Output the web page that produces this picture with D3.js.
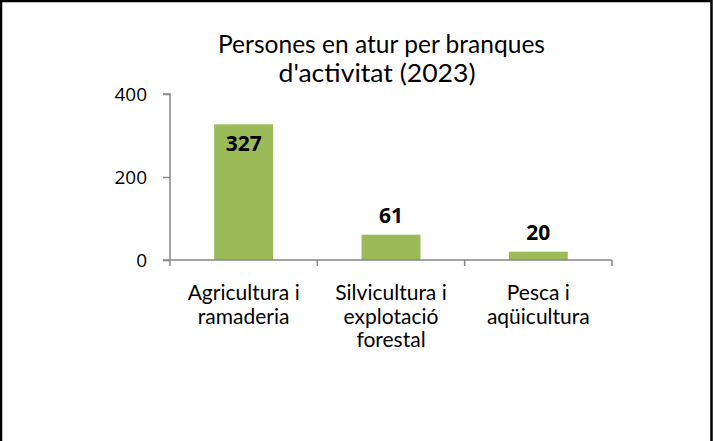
<!DOCTYPE html>
<html><head><meta charset="utf-8">
<script src="https://cdn.jsdelivr.net/npm/d3@7"></script>
<style>html,body{margin:0;padding:0;background:#fff;overflow:hidden}</style>
</head><body>
<svg id="c" width="713" height="441"></svg>
<script>
const titleLines = ["Persones en atur per branques", "d'activitat (2023)"];
const categories = ["Agricultura i ramaderia", "Silvicultura i explotació forestal", "Pesca i aqüicultura"];
const categoryLines = [["Agricultura i", "ramaderia"], ["Silvicultura i", "explotació", "forestal"], ["Pesca i", "aqüicultura"]];
const values = [327, 61, 20];
const yTicks = [0, 200, 400];

(function () {
const svg = d3.select("#c");
svg.append("rect").attr("x", 1).attr("y", 1).attr("width", 710.5).attr("height", 480)
  .attr("fill", "#fff").attr("stroke", "#000").attr("stroke-width", 2.5);

const pl = 170, pr = 612, pt = 94, pb = 260;
const x = d3.scaleBand().domain(categories).range([pl, pr]).paddingInner(0.6).paddingOuter(0.3);
const xb = d3.scaleBand().domain(categories).range([pl, pr]).padding(0);
const y = d3.scaleLinear().domain([0, 400]).range([pb, pt]);

const font = "Lato, 'Open Sans', sans-serif";

// title
const titleY = [53, 82];
const titleW = [327, 197];
const titleX = [381.5, 377];
titleLines.forEach((t, i) => {
  svg.append("text").attr("x", titleX[i]).attr("y", titleY[i]).attr("text-anchor", "middle")
    .attr("font-family", font).attr("font-size", 25).attr("fill", "#000")
    .attr("textLength", titleW[i]).attr("lengthAdjust", "spacingAndGlyphs").text(t);
});

// bars
svg.selectAll("rect.bar").data(values).join("rect").attr("class", "bar")
  .attr("x", (d, i) => x(categories[i])).attr("width", x.bandwidth())
  .attr("y", d => y(d)).attr("height", d => y(0) - y(d)).attr("fill", "#9BBB59");

// y axis
const ya = svg.append("g").attr("transform", `translate(${pl},0)`)
  .call(d3.axisLeft(y).tickValues(yTicks).tickSize(7).tickPadding(16).tickFormat(d3.format("d")));
ya.select(".domain").attr("stroke", "#868686").attr("stroke-width", 1.5).attr("d", `M-7,${pt}H0V${pb}`);
ya.selectAll(".tick line").attr("stroke", "#868686").attr("stroke-width", 1.5);
ya.selectAll(".tick text").attr("font-family", "'Open Sans', sans-serif").attr("font-size", 19).attr("fill", "#000");

// x axis line with boundary ticks
const xa = svg.append("g");
xa.append("line").attr("x1", pl - 7).attr("x2", pr).attr("y1", pb).attr("y2", pb)
  .attr("stroke", "#868686").attr("stroke-width", 1.5);
const bounds = categories.map(c => xb(c)).concat([pr]);
xa.selectAll("line.t").data(bounds).join("line").attr("class", "t")
  .attr("x1", d => d).attr("x2", d => d).attr("y1", pb).attr("y2", pb + 6)
  .attr("stroke", "#868686").attr("stroke-width", 1.5);

// category labels
categoryLines.forEach((lines, i) => {
  const cx = xb(categories[i]) + xb.bandwidth() / 2;
  const t = svg.append("text").attr("text-anchor", "middle").attr("font-family", font)
    .attr("font-size", 21).attr("fill", "#000");
  lines.forEach((l, j) => {
    t.append("tspan").attr("x", cx).attr("y", 300 + j * 23.5).text(l);
  });
});

// value labels
svg.selectAll("text.val").data(values).join("text").attr("class", "val")
  .attr("x", (d, i) => x(categories[i]) + x.bandwidth() / 2)
  .attr("y", d => d > 200 ? y(d) + 27 : y(d) - 12)
  .attr("text-anchor", "middle").attr("font-family", "'Open Sans', sans-serif")
  .attr("font-weight", "bold").attr("font-size", 21).attr("fill", "#000")
  .text(d => d);
})();
</script>
</body></html>
